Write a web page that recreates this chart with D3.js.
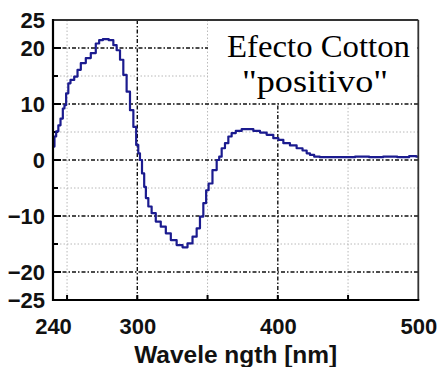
<!DOCTYPE html>
<html><head><meta charset="utf-8">
<script src="https://cdn.jsdelivr.net/npm/d3@7"></script>
<style>body{margin:0;background:#fff}</style>
</head><body><svg id="c" width="441" height="367"></svg>
<script>
// Data
const wavelength = [240.7,241.4,243.1,244.5,246.2,247.8,248.5,250.2,251.6,253.3,256.9,258.0,261.6,265.1,268.7,272.2,273.5,277.5,281.8,284.1,286.5,288.9,291.2,293.6,296.0,298.4,300.0,301.4,302.4,304.3,305.5,306.7,309.0,311.4,314.9,318.5,322.1,325.6,330.4,334.0,337.5,341.1,343.4,345.8,348.2,349.8,351.7,355.3,357.7,358.9,361.2,363.6,366.0,368.3,371.9,376.7,380.2,385.0,389.7,394.4,399.2,401.6,406.3,411.0,415.8,419.4,421.7,424.1,427.7,432,440,450,460,470,480,490,497,500];
const signal = [2.4,4.2,5.1,6.2,7.4,9.2,9.8,11.9,13.7,14.3,14.9,16.1,17.3,18.2,19.1,20.8,21.4,21.6,21.4,20.5,19.6,17.9,15.2,12.2,8.9,5.9,2.7,1.2,0,-2.4,-4.8,-6.8,-8.3,-9.5,-11.0,-11.9,-13.1,-14.3,-15.2,-15.6,-14.9,-13.7,-12.2,-10.1,-7.7,-5.4,-4.2,-1.8,0,0.6,2.1,3.0,4.2,4.8,5.2,5.5,5.5,5.2,4.9,4.5,3.9,3.6,3.0,2.6,2.1,1.7,1.2,0.9,0.6,0.5,0.5,0.5,0.6,0.5,0.6,0.5,0.7,0.6];
const xTickLabels = [240,300,400,500];
const yTickLabels = [25,20,10,0,-10,-20,-25];
const xMajorGrid = [300,400];
const xMinorGrid = [250,350,450];
const yMajorGrid = [20,10,0,-10,-20];
const yMinorGrid = [15,5,-5,-15];
const xTitle = "Wavele ngth [nm]";
const noteLines = ["Efecto Cotton", "\"positivo\""];

const svg = d3.select("#c");
const L = 53, R = 418.3, T = 20, B = 300;
const x = d3.scaleLinear([240,500],[L,R]);
const y = d3.scaleLinear([-25,25],[B,T]);

const g = svg.append("g");
// minor grid
g.selectAll(".vmin").data(xMinorGrid).join("line")
  .attr("x1",d=>x(d)).attr("x2",d=>x(d)).attr("y1",T).attr("y2",B)
  .attr("stroke","#b8b8b8").attr("stroke-width",1).attr("stroke-dasharray","1.5,2");
g.selectAll(".hmin").data(yMinorGrid).join("line")
  .attr("y1",d=>y(d)).attr("y2",d=>y(d)).attr("x1",L).attr("x2",R)
  .attr("stroke","#b8b8b8").attr("stroke-width",1).attr("stroke-dasharray","1.5,2");
// major grid
g.selectAll(".vmaj").data(xMajorGrid).join("line")
  .attr("x1",d=>x(d)).attr("x2",d=>x(d)).attr("y1",T).attr("y2",B)
  .attr("stroke","#111").attr("stroke-width",1.4).attr("stroke-dasharray","4,2,1.5,2");
g.selectAll(".hmaj").data(yMajorGrid).join("line")
  .attr("y1",d=>y(d)).attr("y2",d=>y(d)).attr("x1",L).attr("x2",R)
  .attr("stroke","#111").attr("stroke-width",1.4).attr("stroke-dasharray","4,2,1.5,2");

// white box behind the annotation
g.append("rect").attr("x",208).attr("y",T+1).attr("width",R-1-208).attr("height",82).attr("fill","#fff");

// ticks inward
g.selectAll(".ytk").data(yMajorGrid.concat(yMinorGrid)).join("line")
  .attr("x1",L).attr("x2",d=>L+(yMajorGrid.includes(d)?8:5)).attr("y1",d=>y(d)).attr("y2",d=>y(d))
  .attr("stroke","#000").attr("stroke-width",2);
g.selectAll(".xtk").data(xMajorGrid.concat(xMinorGrid)).join("line")
  .attr("x1",d=>x(d)).attr("x2",d=>x(d)).attr("y1",B).attr("y2",B-5)
  .attr("stroke","#000").attr("stroke-width",2);

// curve
svg.append("clipPath").attr("id","clip").append("rect").attr("x",L).attr("y",T).attr("width",R-L).attr("height",B-T);
const pts = wavelength.map((w,i)=>[w,signal[i]]);
svg.append("path").datum(pts).attr("clip-path","url(#clip)")
  .attr("d", d3.line().x(d=>x(d[0])).y(d=>y(d[1])).curve(d3.curveStep))
  .attr("fill","none").attr("stroke","#1b1b8f").attr("stroke-width",2.2).attr("stroke-linejoin","round");

// frame
svg.append("line").attr("x1",L).attr("x2",R).attr("y1",T).attr("y2",T).attr("stroke","#333").attr("stroke-width",1.8);
svg.append("line").attr("x1",R).attr("x2",R).attr("y1",T).attr("y2",B).attr("stroke","#333").attr("stroke-width",1.8);
svg.append("line").attr("x1",L).attr("x2",L).attr("y1",T-1).attr("y2",B+1).attr("stroke","#000").attr("stroke-width",2.2);
svg.append("line").attr("x1",L-1).attr("x2",R+1).attr("y1",B).attr("y2",B).attr("stroke","#000").attr("stroke-width",2.2);

// axes labels
const font = "'Liberation Sans', Arial, sans-serif";
const ax = svg.append("g").attr("transform",`translate(0,${B})`)
  .call(d3.axisBottom(x).tickValues(xTickLabels).tickSize(0).tickPadding(18));
const ay = svg.append("g").attr("transform",`translate(${L},0)`)
  .call(d3.axisLeft(y).tickValues(yTickLabels).tickSize(0).tickPadding(8));
[ax,ay].forEach(a=>{
  a.select(".domain").remove();
  a.selectAll("text").attr("font-family",font).attr("font-weight","bold").attr("font-size",22).attr("fill","#111");
});

svg.append("text").attr("x",(L+R)/2).attr("y",363).attr("text-anchor","middle")
  .attr("font-family",font).attr("font-weight","bold").attr("font-size",24).attr("fill","#111")
  .attr("textLength",203).attr("lengthAdjust","spacingAndGlyphs").text(xTitle);

// annotation
const serif = "'Liberation Serif', 'Times New Roman', serif";
svg.append("text").attr("x",318.5).attr("y",57).attr("text-anchor","middle")
  .attr("font-family",serif).attr("font-size",31).attr("fill","#000")
  .attr("textLength",183).attr("lengthAdjust","spacingAndGlyphs").text(noteLines[0]);
svg.append("text").attr("x",315).attr("y",92).attr("text-anchor","middle")
  .attr("font-family",serif).attr("font-size",31).attr("fill","#000")
  .attr("textLength",146).attr("lengthAdjust","spacingAndGlyphs").text(noteLines[1]);
</script></body></html>
